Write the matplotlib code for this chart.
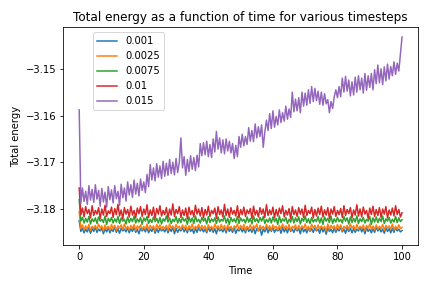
import numpy as np
import matplotlib
matplotlib.use("Agg")
import matplotlib.pyplot as plt

# time axis (every half time unit) and the timesteps shown in the legend
time = np.linspace(0, 100, 201)
timesteps = ["0.001", "0.0025", "0.0075", "0.01", "0.015"]

# total energy, ten values (five time units) per row
energy_0001 = [
    -3.1825, -3.1848, -3.1841, -3.1851, -3.1843, -3.1849, -3.1840, -3.1852, -3.1842, -3.1848,
    -3.1839, -3.1850, -3.1843, -3.1847, -3.1841, -3.1853, -3.1842, -3.1849, -3.1840, -3.1851,
    -3.1843, -3.1848, -3.1839, -3.1850, -3.1842, -3.1852, -3.1841, -3.1847, -3.1843, -3.1849,
    -3.1840, -3.1851, -3.1842, -3.1848, -3.1839, -3.1850, -3.1843, -3.1853, -3.1841, -3.1847,
    -3.1842, -3.1849, -3.1840, -3.1851, -3.1843, -3.1848, -3.1839, -3.1852, -3.1842, -3.1850,
    -3.1841, -3.1847, -3.1843, -3.1849, -3.1840, -3.1851, -3.1842, -3.1848, -3.1839, -3.1853,
    -3.1841, -3.1850, -3.1843, -3.1847, -3.1840, -3.1849, -3.1842, -3.1851, -3.1839, -3.1848,
    -3.1843, -3.1852, -3.1841, -3.1850, -3.1840, -3.1847, -3.1842, -3.1849, -3.1843, -3.1851,
    -3.1839, -3.1848, -3.1841, -3.1850, -3.1842, -3.1853, -3.1840, -3.1847, -3.1843, -3.1849,
    -3.1841, -3.1851, -3.1839, -3.1848, -3.1842, -3.1850, -3.1840, -3.1852, -3.1843, -3.1847,
    -3.1841, -3.1849, -3.1842, -3.1851, -3.1839, -3.1848, -3.1843, -3.1850, -3.1840, -3.1853,
    -3.1842, -3.1847, -3.1841, -3.1856, -3.1843, -3.1849, -3.1839, -3.1851, -3.1842, -3.1848,
    -3.1840, -3.1850, -3.1843, -3.1847, -3.1841, -3.1852, -3.1839, -3.1849, -3.1842, -3.1851,
    -3.1840, -3.1848, -3.1843, -3.1850, -3.1841, -3.1847, -3.1842, -3.1853, -3.1839, -3.1849,
    -3.1843, -3.1851, -3.1840, -3.1848, -3.1842, -3.1850, -3.1841, -3.1847, -3.1843, -3.1852,
    -3.1839, -3.1849, -3.1842, -3.1854, -3.1840, -3.1848, -3.1843, -3.1851, -3.1841, -3.1850,
    -3.1842, -3.1847, -3.1839, -3.1849, -3.1843, -3.1852, -3.1840, -3.1848, -3.1841, -3.1851,
    -3.1842, -3.1850, -3.1843, -3.1847, -3.1839, -3.1849, -3.1841, -3.1853, -3.1840, -3.1848,
    -3.1843, -3.1851, -3.1842, -3.1850, -3.1839, -3.1847, -3.1841, -3.1849, -3.1843, -3.1852,
    -3.1840, -3.1848, -3.1842, -3.1851, -3.1841, -3.1850, -3.1839, -3.1847, -3.1843, -3.1849,
    -3.1846,
]
energy_00025 = [
    -3.1806, -3.1842, -3.1834, -3.1845, -3.1836, -3.1843, -3.1833, -3.1846, -3.1837, -3.1842,
    -3.1835, -3.1844, -3.1832, -3.1841, -3.1836, -3.1847, -3.1834, -3.1843, -3.1837, -3.1845,
    -3.1833, -3.1842, -3.1835, -3.1846, -3.1836, -3.1841, -3.1834, -3.1844, -3.1832, -3.1843,
    -3.1837, -3.1845, -3.1835, -3.1842, -3.1833, -3.1846, -3.1836, -3.1841, -3.1834, -3.1844,
    -3.1837, -3.1843, -3.1832, -3.1845, -3.1835, -3.1842, -3.1836, -3.1847, -3.1833, -3.1841,
    -3.1834, -3.1844, -3.1837, -3.1843, -3.1835, -3.1846, -3.1832, -3.1842, -3.1836, -3.1845,
    -3.1833, -3.1841, -3.1837, -3.1844, -3.1834, -3.1843, -3.1835, -3.1846, -3.1836, -3.1842,
    -3.1832, -3.1845, -3.1837, -3.1841, -3.1833, -3.1844, -3.1835, -3.1843, -3.1836, -3.1847,
    -3.1834, -3.1842, -3.1837, -3.1845, -3.1832, -3.1841, -3.1836, -3.1844, -3.1833, -3.1843,
    -3.1835, -3.1846, -3.1834, -3.1842, -3.1837, -3.1845, -3.1836, -3.1841, -3.1832, -3.1844,
    -3.1835, -3.1843, -3.1833, -3.1846, -3.1837, -3.1842, -3.1834, -3.1845, -3.1836, -3.1841,
    -3.1832, -3.1848, -3.1835, -3.1843, -3.1837, -3.1844, -3.1833, -3.1842, -3.1836, -3.1846,
    -3.1834, -3.1841, -3.1837, -3.1845, -3.1835, -3.1843, -3.1832, -3.1842, -3.1836, -3.1844,
    -3.1833, -3.1846, -3.1837, -3.1841, -3.1834, -3.1845, -3.1835, -3.1843, -3.1836, -3.1842,
    -3.1832, -3.1844, -3.1837, -3.1846, -3.1833, -3.1841, -3.1835, -3.1845, -3.1834, -3.1843,
    -3.1836, -3.1842, -3.1837, -3.1847, -3.1832, -3.1844, -3.1835, -3.1841, -3.1836, -3.1845,
    -3.1833, -3.1843, -3.1834, -3.1846, -3.1837, -3.1842, -3.1835, -3.1844, -3.1832, -3.1841,
    -3.1836, -3.1845, -3.1833, -3.1843, -3.1837, -3.1842, -3.1834, -3.1846, -3.1835, -3.1841,
    -3.1832, -3.1844, -3.1836, -3.1845, -3.1834, -3.1843, -3.1837, -3.1842, -3.1833, -3.1846,
    -3.1835, -3.1841, -3.1836, -3.1844, -3.1832, -3.1845, -3.1837, -3.1843, -3.1834, -3.1842,
    -3.1839,
]
energy_00075 = [
    -3.1780, -3.1826, -3.1818, -3.1830, -3.1820, -3.1828, -3.1816, -3.1832, -3.1821, -3.1827,
    -3.1819, -3.1831, -3.1817, -3.1826, -3.1822, -3.1829, -3.1815, -3.1833, -3.1820, -3.1827,
    -3.1818, -3.1830, -3.1821, -3.1828, -3.1816, -3.1831, -3.1819, -3.1826, -3.1822, -3.1832,
    -3.1817, -3.1829, -3.1820, -3.1827, -3.1815, -3.1830, -3.1821, -3.1828, -3.1818, -3.1833,
    -3.1819, -3.1826, -3.1816, -3.1831, -3.1822, -3.1829, -3.1817, -3.1827, -3.1820, -3.1830,
    -3.1818, -3.1832, -3.1821, -3.1826, -3.1815, -3.1828, -3.1819, -3.1831, -3.1822, -3.1827,
    -3.1816, -3.1830, -3.1820, -3.1829, -3.1818, -3.1826, -3.1821, -3.1833, -3.1817, -3.1828,
    -3.1819, -3.1831, -3.1815, -3.1827, -3.1822, -3.1830, -3.1818, -3.1826, -3.1820, -3.1832,
    -3.1816, -3.1829, -3.1821, -3.1827, -3.1819, -3.1831, -3.1817, -3.1828, -3.1822, -3.1826,
    -3.1815, -3.1830, -3.1820, -3.1833, -3.1818, -3.1827, -3.1821, -3.1829, -3.1816, -3.1831,
    -3.1819, -3.1826, -3.1822, -3.1830, -3.1817, -3.1828, -3.1820, -3.1832, -3.1815, -3.1827,
    -3.1821, -3.1829, -3.1818, -3.1826, -3.1816, -3.1831, -3.1822, -3.1828, -3.1819, -3.1830,
    -3.1817, -3.1827, -3.1820, -3.1833, -3.1815, -3.1829, -3.1821, -3.1826, -3.1818, -3.1831,
    -3.1822, -3.1828, -3.1816, -3.1830, -3.1819, -3.1827, -3.1817, -3.1832, -3.1820, -3.1826,
    -3.1815, -3.1829, -3.1821, -3.1831, -3.1818, -3.1828, -3.1822, -3.1827, -3.1816, -3.1830,
    -3.1819, -3.1833, -3.1817, -3.1826, -3.1820, -3.1829, -3.1815, -3.1831, -3.1821, -3.1828,
    -3.1818, -3.1827, -3.1822, -3.1830, -3.1816, -3.1826, -3.1819, -3.1832, -3.1817, -3.1829,
    -3.1820, -3.1828, -3.1815, -3.1831, -3.1821, -3.1827, -3.1818, -3.1830, -3.1822, -3.1826,
    -3.1816, -3.1833, -3.1819, -3.1828, -3.1817, -3.1829, -3.1820, -3.1827, -3.1815, -3.1831,
    -3.1821, -3.1826, -3.1818, -3.1830, -3.1822, -3.1828, -3.1816, -3.1829, -3.1819, -3.1827,
    -3.1823,
]
energy_001 = [
    -3.1755, -3.1812, -3.1798, -3.1817, -3.1795, -3.1810, -3.1801, -3.1819, -3.1793, -3.1814,
    -3.1803, -3.1811, -3.1797, -3.1820, -3.1800, -3.1813, -3.1792, -3.1816, -3.1804, -3.1810,
    -3.1796, -3.1818, -3.1799, -3.1812, -3.1790, -3.1815, -3.1802, -3.1821, -3.1797, -3.1811,
    -3.1801, -3.1817, -3.1794, -3.1813, -3.1803, -3.1819, -3.1798, -3.1810, -3.1795, -3.1816,
    -3.1800, -3.1812, -3.1791, -3.1818, -3.1802, -3.1814, -3.1796, -3.1820, -3.1799, -3.1811,
    -3.1793, -3.1815, -3.1803, -3.1812, -3.1797, -3.1819, -3.1800, -3.1813, -3.1789, -3.1816,
    -3.1801, -3.1810, -3.1795, -3.1818, -3.1802, -3.1814, -3.1798, -3.1821, -3.1796, -3.1812,
    -3.1803, -3.1817, -3.1792, -3.1811, -3.1800, -3.1815, -3.1797, -3.1819, -3.1801, -3.1813,
    -3.1794, -3.1816, -3.1803, -3.1810, -3.1798, -3.1820, -3.1795, -3.1812, -3.1802, -3.1817,
    -3.1790, -3.1814, -3.1800, -3.1818, -3.1797, -3.1811, -3.1803, -3.1815, -3.1793, -3.1819,
    -3.1801, -3.1812, -3.1796, -3.1816, -3.1802, -3.1810, -3.1799, -3.1820, -3.1794, -3.1813,
    -3.1803, -3.1817, -3.1797, -3.1811, -3.1800, -3.1818, -3.1791, -3.1814, -3.1802, -3.1812,
    -3.1796, -3.1819, -3.1801, -3.1815, -3.1798, -3.1810, -3.1793, -3.1817, -3.1803, -3.1813,
    -3.1799, -3.1821, -3.1795, -3.1812, -3.1802, -3.1816, -3.1797, -3.1811, -3.1800, -3.1818,
    -3.1792, -3.1814, -3.1803, -3.1810, -3.1796, -3.1819, -3.1801, -3.1815, -3.1798, -3.1812,
    -3.1794, -3.1817, -3.1802, -3.1813, -3.1797, -3.1820, -3.1800, -3.1811, -3.1795, -3.1816,
    -3.1803, -3.1812, -3.1799, -3.1818, -3.1793, -3.1814, -3.1801, -3.1810, -3.1797, -3.1819,
    -3.1802, -3.1813, -3.1791, -3.1815, -3.1800, -3.1817, -3.1796, -3.1811, -3.1803, -3.1820,
    -3.1798, -3.1812, -3.1794, -3.1816, -3.1801, -3.1814, -3.1797, -3.1818, -3.1800, -3.1811,
    -3.1795, -3.1819, -3.1802, -3.1813, -3.1798, -3.1815, -3.1793, -3.1812, -3.1801, -3.1817,
    -3.1808,
]
energy_0015 = [
    -3.1588, -3.1788, -3.1755, -3.1784, -3.1762, -3.1790, -3.1750, -3.1781, -3.1758, -3.1786,
    -3.1748, -3.1779, -3.1760, -3.1794, -3.1756, -3.1785, -3.1764, -3.1796, -3.1752, -3.1780,
    -3.1759, -3.1787, -3.1750, -3.1778, -3.1762, -3.1792, -3.1747, -3.1776, -3.1755, -3.1783,
    -3.1742, -3.1770, -3.1748, -3.1775, -3.1738, -3.1768, -3.1745, -3.1772, -3.1736, -3.1760,
    -3.1742, -3.1765, -3.1726, -3.1752, -3.1705, -3.1738, -3.1712, -3.1740, -3.1703, -3.1732,
    -3.1708, -3.1735, -3.1698, -3.1730, -3.1702, -3.1728, -3.1694, -3.1724, -3.1700, -3.1727,
    -3.1692, -3.1722, -3.1700, -3.1648, -3.1712, -3.1688, -3.1728, -3.1694, -3.1720, -3.1686,
    -3.1715, -3.1690, -3.1718, -3.1685, -3.1710, -3.1660, -3.1686, -3.1658, -3.1684, -3.1655,
    -3.1688, -3.1662, -3.1690, -3.1650, -3.1678, -3.1634, -3.1672, -3.1648, -3.1680, -3.1652,
    -3.1682, -3.1650, -3.1676, -3.1655, -3.1680, -3.1660, -3.1692, -3.1664, -3.1688, -3.1645,
    -3.1668, -3.1640, -3.1665, -3.1645, -3.1662, -3.1626, -3.1655, -3.1632, -3.1656, -3.1618,
    -3.1648, -3.1624, -3.1645, -3.1620, -3.1668, -3.1635, -3.1610, -3.1632, -3.1596, -3.1628,
    -3.1590, -3.1625, -3.1602, -3.1620, -3.1588, -3.1615, -3.1594, -3.1612, -3.1580, -3.1608,
    -3.1586, -3.1604, -3.1550, -3.1592, -3.1565, -3.1590, -3.1562, -3.1594, -3.1550, -3.1580,
    -3.1552, -3.1578, -3.1545, -3.1574, -3.1538, -3.1570, -3.1542, -3.1568, -3.1548, -3.1576,
    -3.1550, -3.1578, -3.1553, -3.1575, -3.1566, -3.1594, -3.1570, -3.1585, -3.1560, -3.1545,
    -3.1562, -3.1538, -3.1560, -3.1520, -3.1550, -3.1516, -3.1548, -3.1524, -3.1558, -3.1528,
    -3.1556, -3.1518, -3.1550, -3.1515, -3.1545, -3.1520, -3.1552, -3.1510, -3.1546, -3.1515,
    -3.1540, -3.1510, -3.1545, -3.1502, -3.1532, -3.1492, -3.1530, -3.1500, -3.1534, -3.1496,
    -3.1526, -3.1490, -3.1522, -3.1495, -3.1515, -3.1485, -3.1512, -3.1488, -3.1505, -3.1468,
    -3.1432,
]

series = [energy_0001, energy_00025, energy_00075, energy_001, energy_0015]

fig, ax = plt.subplots(figsize=(6, 4), dpi=72)
fig.subplots_adjust(left=0.146, right=0.968, top=0.906, bottom=0.149)

for label, energy in zip(timesteps, series):
    ax.plot(time, energy, label=label)

ax.set_title("Total energy as a function of time for various timesteps")
ax.set_xlabel("Time")
ax.set_ylabel("Total energy")
ax.legend(loc="upper left", bbox_to_anchor=(0.07, 1.0))

fig.savefig("out.png", dpi=72)
